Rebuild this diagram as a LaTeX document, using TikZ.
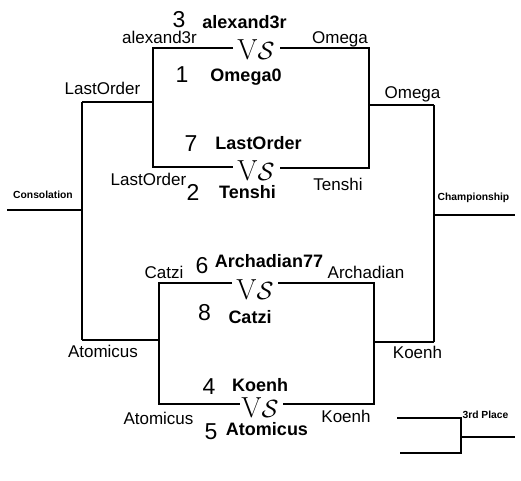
\documentclass[tikz,border=0pt]{standalone}
\usepackage{fontspec}
\newfontfamily\arial{Liberation Sans}
\begin{document}
\begin{tikzpicture}[x=1pt,y=-1pt,
  ln/.style={line width=2.8pt},
  lbl/.style={font=\arial\fontsize{17}{17}\selectfont, inner sep=0, anchor=base},
  nm/.style={font=\arial\bfseries\fontsize{18}{18}\selectfont, inner sep=0, anchor=base},
  num/.style={font=\arial\fontsize{23}{23}\selectfont, inner sep=0, anchor=base},
  small/.style={font=\arial\bfseries\fontsize{10.3}{10.3}\selectfont, inner sep=0, anchor=base},
  vs/.style={font=\fontsize{29}{29}\selectfont, inner sep=0, anchor=base}]
\useasboundingbox (0,0) rectangle (521,480);
\fill[white] (0,0) rectangle (521,480);
% coordinates
\coordinate (A1) at (153,48);  \coordinate (A1g) at (233,48);
\coordinate (A3g) at (280,48); \coordinate (A3) at (369,48);
\coordinate (A2) at (153,167); \coordinate (A2g) at (233,167);
\coordinate (A4g) at (280,168);\coordinate (A4) at (369,168);
\coordinate (A5) at (153,102); \coordinate (L1) at (82,102);
\coordinate (A6) at (369,105); \coordinate (R1) at (434,105);
\coordinate (B1) at (159,283); \coordinate (B1g) at (232,283);
\coordinate (B3g) at (278,283);\coordinate (B3) at (374,283);
\coordinate (B2) at (159,404); \coordinate (B2g) at (240,404);
\coordinate (B4g) at (283,404);\coordinate (B4) at (374,404);
\coordinate (B5) at (159,340); \coordinate (L2) at (82,340);
\coordinate (B6) at (374,342); \coordinate (R2) at (434,342);
\coordinate (L3) at (82,210);  \coordinate (Cons) at (7,210);
\coordinate (R3) at (434,215); \coordinate (Champ) at (515,215);
\coordinate (T1) at (397,418); \coordinate (T2) at (461,418);
\coordinate (T3) at (400,453); \coordinate (T4) at (461,453);
\coordinate (T5) at (461,437); \coordinate (T6) at (515,437);
% lines
\draw[ln] (A1g) -- (A1) -- (A2) -- (A2g);
\draw[ln] (A3g) -- (A3) -- (A4) -- (A4g);
\draw[ln] (A5) -- (L1);
\draw[ln] (A6) -- (R1);
\draw[ln] (B1g) -- (B1) -- (B2) -- (B2g);
\draw[ln] (B3g) -- (B3) -- (B4) -- (B4g);
\draw[ln] (B5) -- (L2);
\draw[ln] (B6) -- (R2);
\draw[ln] (L1) -- (L2);
\draw[ln] (R1) -- (R2);
\draw[ln] (L3) -- (Cons);
\draw[ln] (R3) -- (Champ);
\draw[ln] (T1) -- (T2) -- (T4) -- (T3);
\draw[ln] (T5) -- (T6);
% VS
\node[vs] (vs1) at (256,59) {V$\mathcal{S}$};
\node[vs] (vs2) at (256,180) {V$\mathcal{S}$};
\node[vs] (vs3) at (255,299) {V$\mathcal{S}$};
\node[vs] (vs4) at (260,417) {V$\mathcal{S}$};
% match 1
\node[num] (n3) at (179,27) {3};
\node[nm] (m1a) at (244.5,28) {alexand3r};
\node[num] (n1) at (182,82) {1};
\node[nm] (m1b) at (246,81) {Omega0};
\node[lbl] (l1a) at (159.5,43.5) {alexand3r};
\node[lbl] (l1b) at (340,43) {Omega};
% match 2
\node[num] (n7) at (191,151.5) {7};
\node[nm] (m2a) at (258.5,149) {LastOrder};
\node[num] (n2) at (193,200.5) {2};
\node[nm] (m2b) at (247.5,198) {Tenshi};
\node[lbl] (l2a) at (148.5,185) {LastOrder};
\node[lbl] (l2b) at (338,190) {Tenshi};
% semis top
\node[lbl] (s1) at (102.5,94) {LastOrder};
\node[lbl] (s2) at (412.5,98) {Omega};
% match 3
\node[num] (n6) at (202,273) {6};
\node[nm] (m3a) at (269,267) {Archadian77};
\node[num] (n8) at (204.5,320) {8};
\node[nm] (m3b) at (250,323) {Catzi};
\node[lbl] (l3a) at (164,278) {Catzi};
\node[lbl] (l3b) at (366,278) {Archadian};
% semis bottom
\node[lbl] (s3) at (103,357.5) {Atomicus};
\node[lbl] (s4) at (417.5,358) {Koenh};
% match 4
\node[num] (n4) at (209,394) {4};
\node[nm] (m4a) at (260,391) {Koenh};
\node[num] (n5) at (211,439) {5};
\node[nm] (m4b) at (267,435) {Atomicus};
\node[lbl] (l4a) at (158.5,424) {Atomicus};
\node[lbl] (l4b) at (346,422) {Koenh};
% finals
\node[small] (cons) at (43,198) {Consolation};
\node[small] (champ) at (473.5,200) {Championship};
\node[small] (third) at (485.5,418) {3rd Place};
\end{tikzpicture}
\end{document}
